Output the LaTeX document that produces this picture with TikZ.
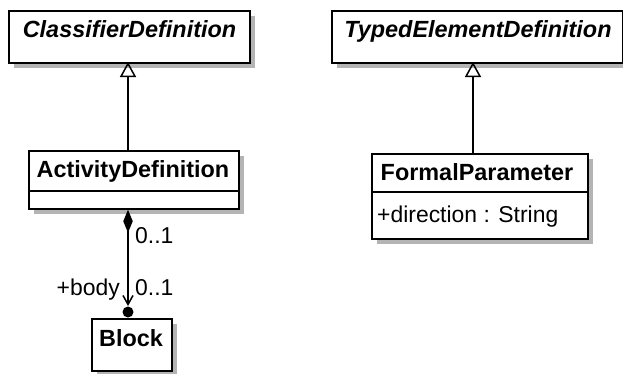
\documentclass[tikz,border=0pt]{standalone}
\usepackage{fontspec}
\setmainfont{Liberation Sans}
\usetikzlibrary{arrows.meta}
\definecolor{shadowgray}{RGB}{180,180,180}
\begin{document}
\begin{tikzpicture}[x=1bp,y=-1bp,
  cls/.style={draw=black, line width=1.7bp, fill=white, inner sep=0pt, anchor=north west},
  shd/.style={fill=shadowgray},
  absname/.style={font=\fontsize{23.5}{26}\selectfont\bfseries\itshape, inner sep=0pt, anchor=base},
  clsname/.style={font=\fontsize{23.5}{26}\selectfont\bfseries, inner sep=0pt, anchor=base},
  txt/.style={font=\fontsize{23}{26}\selectfont, inner sep=0pt},
  conn/.style={line width=1.7bp, draw=black},
  gen/.style={conn, -{Triangle[open, length=15bp, width=16bp, line width=1.5bp]}},
  comp/.style={conn, {Diamond[length=23bp, width=9.5bp]}-{Straight Barb[length=9bp, width=10bp, line width=1.5bp]}}
]
\useasboundingbox (0,0) rectangle (623,373);
\clip (0,0) rectangle (623,373);
% shadows
\fill[shd] (14,16) rectangle (255,68);
\fill[shd] (337,16) rectangle (628,68);
\fill[shd] (34,156) rectangle (244,214);
\fill[shd] (377,159) rectangle (593,244);
\fill[shd] (97,324) rectangle (177,376);
% boxes
\node[cls, minimum width=241bp, minimum height=52bp] (cd) at (8,10) {};
\node[cls, minimum width=291bp, minimum height=52bp] (ted) at (331,10) {};
\node[cls, minimum width=210bp, minimum height=58bp] (ad) at (28,150) {};
\node[cls, minimum width=216bp, minimum height=85bp] (fp) at (371,153) {};
\node[cls, minimum width=80bp, minimum height=52bp] (blk) at (91,318) {};
% dividers
\draw[conn] (ad.west |- 0,191) -- (ad.east |- 0,191);
\draw[conn] (fp.west |- 0,192) -- (fp.east |- 0,192);
% names
\node[absname] (cdn) at (129.5,37) {ClassifierDefinition};
\node[absname] (tedn) at (478,37) {TypedElementDefinition};
\node[clsname] (adn) at (133,177) {ActivityDefinition};
\node[clsname] (fpn) at (477,180) {FormalParameter};
\node[txt, anchor=base west] (fpa) at (377,222) {+direction : String};
\node[clsname] (blkn) at (131,346) {Block};
% generalizations
\coordinate (cg) at (128,62);
\coordinate (tg) at (473,62);
\draw[gen] (ad.north -| cg) -- (cg);
\draw[gen] (fp.north -| tg) -- (tg);
% composition
\coordinate (ct) at (128,306);
\draw[comp] (ad.south -| cg) -- (ct);
\fill (blk.north -| cg) ++(0,-6) circle (5.5bp);
\node[txt, anchor=base west] (m1) at (135,243) {0..1};
\node[txt, anchor=base west] (m2) at (135,295) {0..1};
\node[txt, anchor=base east] (rb) at (120,295) {+body};
\end{tikzpicture}
\end{document}
